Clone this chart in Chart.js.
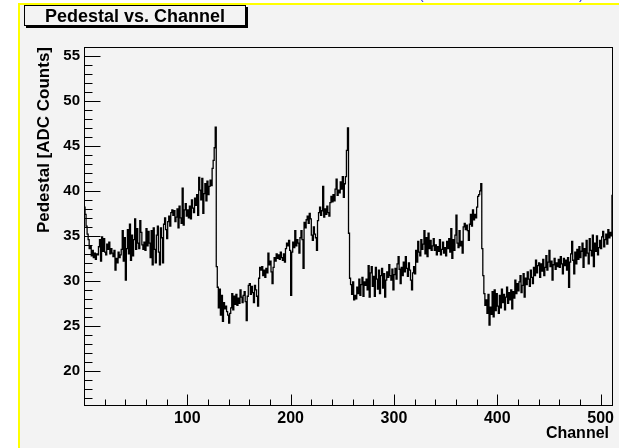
<!DOCTYPE html>
<html>
<head>
<meta charset="utf-8">
<script src="https://cdn.jsdelivr.net/npm/chart.js@4.4.1/dist/chart.umd.min.js"></script>
<style>
  html, body { margin: 0; padding: 0; background: #fff; }
  canvas { display: block; }
</style>
</head>
<body>
<canvas id="chart" width="619" height="448" style="width:619px;height:448px"></canvas>
<script>
// pedestal per channel (512 channels)
const pedestal = [
  38.2, 37.4, 36.1, 35.2, 34.6, 33.6, 33.9, 32.8, 33.4, 32.6, 33.1, 32.4, 33.0, 32.9, 33.8, 34.6, 32.2, 34.9, 33.3, 34.7, 33.2, 32.9, 34.1, 33.5, 34.3, 33.0, 33.6, 33.1, 32.7, 33.4, 31.2, 32.5,
  32.0, 33.2, 32.6, 32.9, 33.5, 35.6, 32.2, 34.8, 30.1, 33.6, 35.7, 33.0, 36.3, 32.3, 35.1, 32.8, 34.6, 36.9, 33.5, 35.8, 34.2, 33.6, 36.7, 35.4, 34.0, 33.5, 34.3, 33.4, 35.8, 33.9, 35.5, 34.2,
  32.6, 35.6, 31.8, 35.9, 33.5, 32.0, 35.1, 36.1, 33.2, 31.8, 35.9, 34.8, 32.0, 36.3, 37.0, 35.7, 34.7, 36.6, 37.2, 36.1, 37.6, 37.9, 37.3, 37.8, 36.6, 37.1, 38.0, 35.9, 38.3, 37.0, 36.4, 40.3,
  36.2, 37.9, 38.6, 37.2, 37.9, 37.0, 38.3, 36.9, 39.0, 38.1, 37.6, 39.2, 38.4, 39.6, 37.3, 41.5, 40.1, 39.0, 41.4, 37.5, 39.7, 40.8, 38.9, 41.1, 39.6, 40.5, 41.2, 40.6, 42.5, 43.4, 44.8, 47.1,
  31.6, 29.3, 27.0, 29.1, 26.2, 28.4, 25.5, 27.6, 26.9, 27.2, 26.6, 26.2, 25.3, 26.4, 27.0, 28.6, 26.8, 28.3, 27.4, 28.5, 27.3, 28.1, 27.5, 29.0, 28.2, 27.6, 28.4, 28.8, 27.7, 25.6, 28.3, 29.5,
  29.7, 28.5, 29.4, 28.7, 27.6, 29.5, 29.0, 28.3, 27.2, 30.3, 31.5, 31.2, 31.6, 30.6, 31.2, 30.4, 31.4, 30.9, 33.1, 31.8, 32.2, 31.0, 29.7, 31.5, 32.6, 32.2, 33.0, 32.5, 32.9, 32.4, 33.2, 32.6,
  32.3, 33.0, 32.1, 33.6, 34.2, 33.9, 34.5, 33.4, 28.4, 33.2, 34.3, 33.7, 35.6, 33.9, 34.6, 34.2, 33.1, 34.8, 35.6, 34.6, 31.4, 36.5, 35.9, 36.8, 37.2, 36.4, 37.5, 36.9, 35.1, 34.5, 36.0, 35.2,
  34.8, 33.4, 36.7, 37.6, 38.2, 37.3, 37.8, 40.5, 37.1, 38.0, 37.4, 38.3, 37.6, 37.2, 38.7, 39.4, 38.8, 39.6, 38.9, 40.2, 41.3, 39.5, 40.1, 39.8, 41.0, 40.2, 41.6, 39.3, 40.8, 41.6, 44.5, 47.0,
  35.3, 30.3, 29.6, 28.5, 29.9, 27.9, 28.4, 28.0, 29.3, 28.6, 30.2, 28.4, 29.6, 30.4, 28.3, 29.9, 29.5, 30.2, 29.0, 31.7, 28.2, 30.9, 31.6, 29.4, 30.5, 28.3, 31.5, 30.2, 29.1, 31.2, 28.6, 30.6,
  31.4, 29.2, 30.8, 28.2, 30.1, 31.0, 30.4, 31.8, 30.6, 30.1, 31.3, 29.0, 30.7, 31.4, 30.2, 31.9, 32.7, 31.3, 29.7, 31.5, 30.6, 32.1, 31.0, 32.7, 31.4, 30.5, 32.0, 31.2, 30.1, 29.0, 30.9, 31.6,
  30.8, 33.4, 32.1, 34.4, 33.2, 32.8, 34.6, 33.5, 34.1, 35.6, 33.0, 34.8, 32.7, 35.3, 33.6, 34.5, 33.4, 33.9, 34.7, 33.4, 34.0, 32.9, 33.8, 33.3, 34.6, 32.9, 33.5, 34.3, 33.1, 33.7, 32.8, 34.4,
  33.6, 34.7, 33.2, 35.8, 32.5, 34.6, 33.4, 35.1, 37.3, 34.2, 33.7, 35.6, 33.9, 34.4, 33.1, 36.0, 36.4, 35.7, 36.2, 35.6, 34.5, 36.3, 37.4, 36.1, 37.9, 36.8, 37.4, 37.0, 38.2, 39.4, 39.6, 40.0,
  40.8, 33.6, 30.6, 28.6, 27.3, 27.9, 26.4, 28.5, 25.1, 27.1, 26.3, 28.8, 26.0, 29.0, 26.7, 28.6, 27.2, 26.4, 28.4, 27.0, 29.1, 27.6, 28.5, 26.8, 28.2, 29.3, 27.5, 28.7, 27.9, 29.0, 26.9, 28.8,
  28.1, 30.1, 28.6, 29.7, 28.9, 29.9, 30.6, 28.7, 29.5, 30.8, 28.2, 30.3, 29.6, 31.0, 30.2, 29.4, 31.2, 30.4, 29.7, 31.5, 30.6, 32.3, 30.9, 31.7, 32.0, 30.4, 31.9, 31.1, 32.4, 30.6, 31.5, 32.8,
  31.2, 32.1, 33.4, 31.6, 32.2, 30.1, 31.8, 32.5, 31.3, 32.0, 31.6, 32.4, 31.5, 32.7, 31.9, 30.8, 32.5, 31.7, 32.3, 31.2, 32.6, 29.3, 32.1, 33.0, 34.4, 32.3, 30.8, 33.2, 31.9, 33.5, 32.4, 33.8,
  32.6, 33.3, 34.2, 31.5, 33.6, 32.8, 34.5, 33.1, 31.9, 34.7, 33.4, 32.8, 35.1, 31.6, 34.2, 33.3, 35.0, 32.9, 33.7, 34.5, 33.6, 34.9, 35.5, 33.8, 34.6, 35.2, 34.1, 35.7, 34.8, 35.4, 35.0, 39.5
];
const channels = pedestal.map((_, i) => i);

const xRange = [0, 512];
const yRange = [16.1, 56];
const xTickLabels = [100, 200, 300, 400, 500];
const yTickLabels = [20, 25, 30, 35, 40, 45, 50, 55];
const xMinorStep = 20;
const yMinorStep = 1;

const titleText = 'Pedestal vs. Channel';
const xTitle = 'Channel';
const yTitle = 'Pedestal [ADC Counts]';

const FONT = '"Liberation Sans", Arial, Helvetica, sans-serif';
const BG = '#f3f3f3';

// histogram outline: left bin edges, closed at the last edge
const points = channels.map((c, i) => ({ x: c, y: pedestal[i] }));
points.push({ x: xRange[1], y: pedestal[pedestal.length - 1] });

const rootStyle = {
  id: 'rootStyle',
  beforeDraw(chart) {
    const { ctx, width, height } = chart;
    ctx.save();
    ctx.fillStyle = '#ffffff';
    ctx.fillRect(0, 0, width, height);
    ctx.fillStyle = BG;
    ctx.fillRect(18, 3, width - 18, height - 3);
    ctx.fillStyle = '#ffff00';
    ctx.fillRect(18, 3, width - 18, 2);
    ctx.fillRect(18, 3, 2, height - 3);
    // cut-off text from above the picture
    ctx.fillStyle = '#3333cc';
    ctx.font = '14px ' + FONT;
    ctx.textBaseline = 'alphabetic';
    ctx.fillText('(', 419, -1);
    ctx.fillText(')', 579, -1);
    ctx.restore();
  },
  afterDraw(chart) {
    const { ctx, chartArea: a } = chart;
    const xs = chart.scales.x;
    const ys = chart.scales.y;
    ctx.save();
    ctx.strokeStyle = '#000';
    ctx.lineWidth = 1;
    ctx.strokeRect(Math.round(a.left) + 0.5, Math.round(a.top) + 0.5,
      Math.round(a.right - a.left) - 1, Math.round(a.bottom - a.top) - 1);

    ctx.beginPath();
    const bottom = Math.round(a.bottom) - 0.5;
    for (let v = xRange[0] + xMinorStep; v < xRange[1]; v += xMinorStep) {
      const px = Math.round(xs.getPixelForValue(v)) + 0.5;
      const len = xTickLabels.includes(v) ? 11 : 6;
      ctx.moveTo(px, bottom);
      ctx.lineTo(px, bottom - len);
    }
    const left = Math.round(a.left) + 0.5;
    for (let v = Math.ceil(yRange[0]); v < yRange[1]; v += yMinorStep) {
      const py = Math.round(ys.getPixelForValue(v)) + 0.5;
      const len = yTickLabels.includes(v) ? 16 : 8;
      ctx.moveTo(left, py);
      ctx.lineTo(left + len, py);
    }
    ctx.stroke();

    // x axis title, right aligned a little inside the frame
    ctx.fillStyle = '#000';
    ctx.font = 'bold 16px ' + FONT;
    ctx.textAlign = 'right';
    ctx.textBaseline = 'alphabetic';
    ctx.fillText(xTitle, a.right - 4, 438);

    // title box with shadow
    ctx.fillStyle = '#000';
    ctx.fillRect(26, 7, 222, 21);
    ctx.fillStyle = BG;
    ctx.fillRect(24, 5, 222, 21);
    ctx.strokeRect(24.5, 5.5, 221, 20);
    ctx.fillStyle = '#000';
    ctx.font = 'bold 18px ' + FONT;
    ctx.textAlign = 'center';
    ctx.fillText(titleText, 135, 22);
    ctx.restore();
  }
};

new Chart(document.getElementById('chart'), {
  type: 'line',
  data: {
    datasets: [{
      data: points,
      stepped: 'before',
      borderColor: '#000',
      borderWidth: 1.3,
      pointRadius: 0,
      fill: false
    }]
  },
  options: {
    responsive: false,
    animation: false,
    events: [],
    layout: { padding: { top: 47, right: 6, left: 0, bottom: 0 } },
    scales: {
      x: {
        type: 'linear',
        min: xRange[0],
        max: xRange[1],
        afterFit: (s) => { s.height = 42; },
        afterBuildTicks: (s) => { s.ticks = xTickLabels.map((v) => ({ value: v })); },
        grid: { display: false, drawTicks: false },
        border: { display: false },
        ticks: {
          color: '#000',
          font: { family: FONT, size: 16, weight: 'bold' },
          padding: 3,
          maxRotation: 0,
          autoSkip: false
        }
      },
      y: {
        type: 'linear',
        min: yRange[0],
        max: yRange[1],
        afterFit: (s) => { s.width = 84; },
        afterBuildTicks: (s) => { s.ticks = yTickLabels.map((v) => ({ value: v })); },
        grid: { display: false, drawTicks: false },
        border: { display: false },
        ticks: {
          color: '#000',
          font: { family: FONT, size: 15, weight: 'bold' },
          padding: 4
        },
        title: {
          display: true,
          text: yTitle,
          align: 'end',
          color: '#000',
          font: { family: FONT, size: 17, weight: 'bold' },
          padding: { top: 34, bottom: 0 }
        }
      }
    },
    plugins: {
      legend: { display: false },
      tooltip: { enabled: false }
    }
  },
  plugins: [rootStyle]
});
</script>
</body>
</html>
